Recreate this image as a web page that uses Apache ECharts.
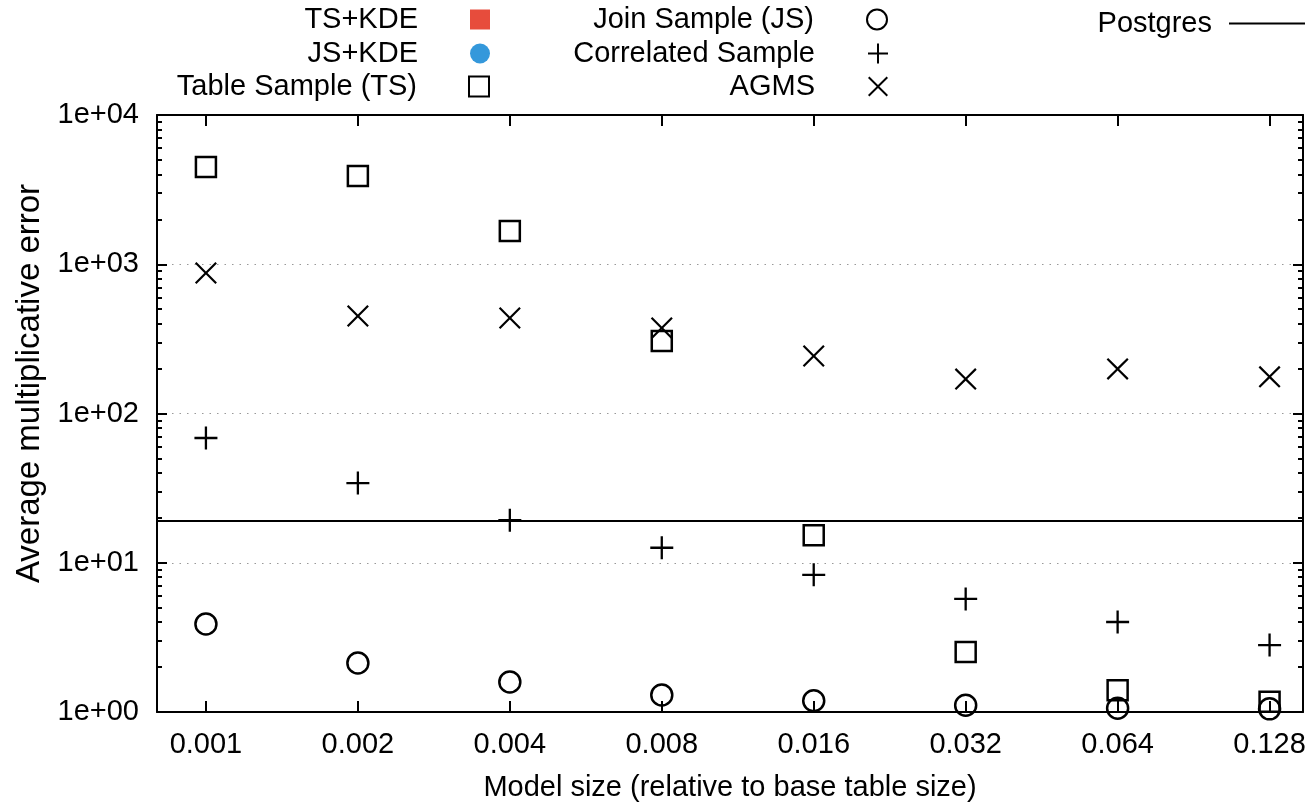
<!DOCTYPE html>
<html><head><meta charset="utf-8">
<script src="https://cdn.jsdelivr.net/npm/echarts@6/dist/echarts.min.js"></script>
<style>html,body{margin:0;padding:0;background:#fff}#c{width:1305px;height:805px}</style>
</head><body><div id="c"></div>
<script>
const categories = ['0.001','0.002','0.004','0.008','0.016','0.032','0.064','0.128'];
const tsKde = [];
const jsKde = [];
const tableSample = [4480, 3900, 1670, 306, 15.3, 2.52, 1.40, 1.17];
const joinSample = [3.89, 2.13, 1.59, 1.30, 1.19, 1.11, 1.06, 1.05];
const correlatedSample = [68.5, 34.2, 19.3, 12.6, 8.3, 5.72, 4.01, 2.81];
const agms = [874, 450, 436, 374, 243, 170, 199, 176];
const postgres = 19.2;
const yMajorTicks = [1, 10, 100, 1000, 10000];
const yTickLabels = ['1e+00','1e+01','1e+02','1e+03','1e+04'];
const yMinorTicks = [];
for (let d = 1; d < 10000; d *= 10) for (let k = 2; k <= 9; k++) yMinorTicks.push(d * k);

const FONT = 'Liberation Sans';
const FS = 29;
const idx = categories.map((_, i) => i);
const pts = arr => arr.map((v, i) => [i, v]);
const PLUS = 'path://M9,0h2v9h9v2h-9v9h-2v-9h-9v-2h9z';
const CROSS = 'path://M0,1.4L1.4,0L10,8.6L18.6,0L20,1.4L11.4,10L20,18.6L18.6,20L10,11.4L1.4,20L0,18.6L8.6,10Z';

const xBase = {type:'value', min:-0.322, max:7.22, gridIndex:0};
const yBase = {type:'log', logBase:10, min:1, max:10000, gridIndex:0};
const axisLineStyle = {show:true, onZero:false, lineStyle:{color:'#000', width:2}};

function leg(name, right, top, padRight, extra) {
  return Object.assign({
    data:[name], right:right, top:top, padding:0, align:'right', orient:'horizontal',
    itemWidth:20, itemHeight:20, selectedMode:false,
    textStyle:{fontFamily:FONT, fontSize:FS, color:'#000', padding:[0,padRight,0,0]}
  }, extra || {});
}

const chart = echarts.init(document.getElementById('c'), null, {renderer:'canvas'});
chart.setOption({
  animation:false,
  backgroundColor:'#fff',
  grid:{left:157, right:2, top:115, bottom:93, containLabel:false, outerBoundsMode:'none'},
  legend:[
    leg('TS+KDE', 815, 5, 47),
    leg('JS+KDE', 815, 39, 47),
    leg('Table Sample (TS)', 815, 72, 47),
    leg('Join Sample (JS)', 417, 5, 48),
    leg('Correlated Sample', 417, 39, 48),
    leg('AGMS', 417, 72, 48),
    leg('Postgres', 0, 9, 12, {itemWidth:76, itemHeight:2,
      data:[{name:'Postgres', icon:'rect', itemStyle:{color:'#000'}}]})
  ],
  xAxis:[
    Object.assign({}, xBase, {
      position:'bottom',
      name:'Model size (relative to base table size)', nameLocation:'middle', nameGap:61,
      nameTextStyle:{fontFamily:FONT, fontSize:FS, color:'#000'},
      axisLine:axisLineStyle,
      axisTick:{show:true, inside:true, length:11, customValues:idx, lineStyle:{color:'#000', width:2}},
      axisLabel:{show:true, customValues:idx, margin:18, fontFamily:FONT, fontSize:FS, color:'#000',
        formatter:v => categories[Math.round(v)]},
      splitLine:{show:false}
    }),
    Object.assign({}, xBase, {
      position:'top',
      axisLine:axisLineStyle,
      axisTick:{show:true, inside:true, length:11, customValues:idx, lineStyle:{color:'#000', width:2}},
      axisLabel:{show:false},
      splitLine:{show:false}
    })
  ],
  yAxis:[
    Object.assign({}, yBase, {
      position:'left',
      name:'Average multiplicative error', nameLocation:'middle', nameGap:111,
      nameTextStyle:{fontFamily:FONT, fontSize:33, color:'#000', padding:[0,0,0,60]},
      axisLine:axisLineStyle,
      axisTick:{show:true, inside:true, length:10, customValues:yMajorTicks, lineStyle:{color:'#000', width:2}},
      axisLabel:{show:true, customValues:yMajorTicks, margin:18, fontFamily:FONT, fontSize:FS, color:'#000',
        formatter:v => yTickLabels[yMajorTicks.indexOf(Math.round(v))] || ''},
      splitLine:{show:true, lineStyle:{color:'#999', width:1, type:[1.5,6]}}
    }),
    Object.assign({}, yBase, {
      position:'left',
      axisLine:{show:false, onZero:false},
      axisTick:{show:true, inside:true, length:5, customValues:yMinorTicks, lineStyle:{color:'#000', width:2}},
      axisLabel:{show:false}, splitLine:{show:false}
    }),
    Object.assign({}, yBase, {
      position:'right',
      axisLine:axisLineStyle,
      axisTick:{show:true, inside:true, length:10, customValues:yMajorTicks, lineStyle:{color:'#000', width:2}},
      axisLabel:{show:false}, splitLine:{show:false}
    }),
    Object.assign({}, yBase, {
      position:'right',
      axisLine:{show:false, onZero:false},
      axisTick:{show:true, inside:true, length:5, customValues:yMinorTicks, lineStyle:{color:'#000', width:2}},
      axisLabel:{show:false}, splitLine:{show:false}
    })
  ],
  series:[
    {name:'TS+KDE', type:'scatter', data:pts(tsKde), symbol:'rect', symbolSize:20,
      itemStyle:{color:'#e74c3c', opacity:1}},
    {name:'JS+KDE', type:'scatter', data:pts(jsKde), symbol:'circle', symbolSize:20,
      itemStyle:{color:'#3498db', opacity:1}},
    {name:'Table Sample (TS)', type:'scatter', data:pts(tableSample), symbol:'rect', symbolSize:20,
      itemStyle:{color:'rgba(255,255,255,0)', borderColor:'#000', borderWidth:2.5, opacity:1}},
    {name:'Join Sample (JS)', type:'scatter', data:pts(joinSample), symbol:'circle', symbolSize:21,
      itemStyle:{color:'rgba(255,255,255,0)', borderColor:'#000', borderWidth:2.5, opacity:1}},
    {name:'Correlated Sample', type:'scatter', data:pts(correlatedSample), symbol:PLUS, symbolSize:23,
      itemStyle:{color:'#000', opacity:1}},
    {name:'AGMS', type:'scatter', data:pts(agms), symbol:CROSS, symbolSize:22,
      itemStyle:{color:'#000', opacity:1}},
    {name:'Postgres', type:'line', data:[], symbol:'none', lineStyle:{color:'#000', width:2},
      itemStyle:{color:'#000'},
      markLine:{silent:true, symbol:'none', label:{show:false},
        lineStyle:{color:'#000', width:2, type:'solid'},
        data:[{yAxis:postgres}]}}
  ]
});
</script></body></html>
